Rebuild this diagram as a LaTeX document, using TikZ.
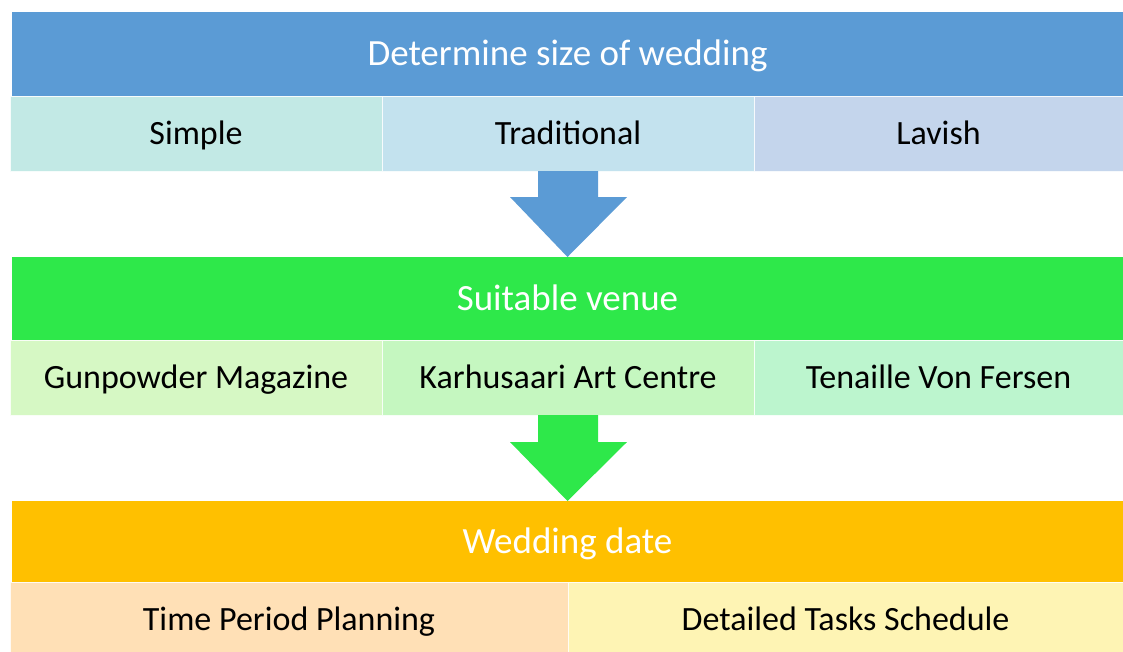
\documentclass[tikz,border=0pt]{standalone}
\usepackage{fontspec}
\setmainfont{Carlito}
\usepackage{tikz}
\usetikzlibrary{calc}

\definecolor{hdrblue}{HTML}{5B9BD5}
\definecolor{hdrgreen}{HTML}{2EE84A}
\definecolor{hdrorange}{HTML}{FFC000}
\definecolor{simplefill}{HTML}{C2E9E5}
\definecolor{tradfill}{HTML}{C3E2EE}
\definecolor{lavishfill}{HTML}{C4D5EC}
\definecolor{gunfill}{HTML}{D6F8C4}
\definecolor{karfill}{HTML}{C5F7C0}
\definecolor{tenfill}{HTML}{BCF5CE}
\definecolor{timefill}{HTML}{FFE0B6}
\definecolor{taskfill}{HTML}{FEF4B4}

\tikzset{
  header/.style={rectangle, inner sep=0pt, outer sep=0pt, anchor=north west,
    minimum width=1111pt, text=white, font=\fontsize{37}{40}\selectfont,
    text height=23.5pt, text depth=0pt},
  cell/.style={rectangle, inner sep=0pt, outer sep=0pt, anchor=north west,
    draw=white!85!#1, line width=1pt, fill=#1, text=black,
    font=\fontsize{34}{38}\selectfont, text height=22pt, text depth=0pt},
}

\begin{document}
\begin{tikzpicture}[x=1pt, y=-1pt]
		\useasboundingbox (0,0) rectangle (1123,651);
		\clip (0,0) rectangle (1123,651);

		% first step
		\node[header, fill=hdrblue, minimum height=84pt] (size) at (12,12) {Determine size of wedding};
		\node[cell=simplefill, minimum width=372pt, minimum height=75pt] (simple) at (10,96) {Simple};
		\node[cell=tradfill, minimum width=372pt, minimum height=75pt] (trad) at (382,96) {Traditional};
		\node[cell=lavishfill, minimum width=369pt, minimum height=75pt] (lavish) at (754,96) {Lavish};

		% second step
		\node[header, fill=hdrgreen, minimum height=83pt] (venue) at (12,257) {Suitable venue};
		\node[cell=gunfill, minimum width=372pt, minimum height=75pt] (gun) at (10,340) {Gunpowder Magazine};
		\node[cell=karfill, minimum width=372pt, minimum height=75pt] (karhu) at (382,340) {Karhusaari Art Centre};
		\node[cell=tenfill, minimum width=369pt, minimum height=75pt] (tenaille) at (754,340) {Tenaille Von Fersen};

		% third step
		\node[header, fill=hdrorange, minimum height=81pt] (date) at (12,501) {Wedding date};
		\node[cell=timefill, minimum width=558pt, minimum height=75pt] (period) at (10,582) {Time Period Planning};
		\node[cell=taskfill, minimum width=555pt, minimum height=75pt] (tasks) at (568,582) {Detailed Tasks Schedule};

		% block arrows between steps
		\fill[hdrblue] ($(trad.south)+(-30,0)$) -- ($(trad.south)+(30,0)$) -- ($(trad.south)+(30,26)$)
			-- ($(trad.south)+(59,26)$) -- (venue.north) -- ($(trad.south)+(-58,26)$)
			-- ($(trad.south)+(-30,26)$) -- cycle;
		\fill[hdrgreen] ($(karhu.south)+(-30,0)$) -- ($(karhu.south)+(30,0)$) -- ($(karhu.south)+(30,27)$)
			-- ($(karhu.south)+(59,27)$) -- (date.north) -- ($(karhu.south)+(-58,27)$)
			-- ($(karhu.south)+(-30,27)$) -- cycle;
\end{tikzpicture}
\end{document}
